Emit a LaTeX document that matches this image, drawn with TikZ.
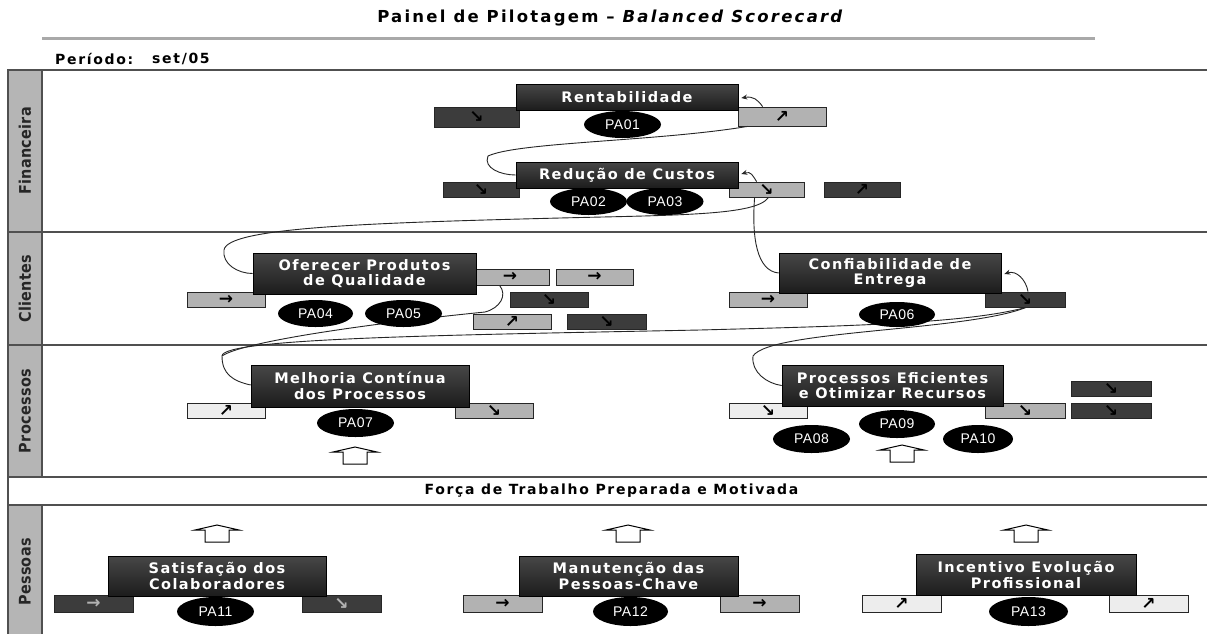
\documentclass[tikz,border=0pt]{standalone}
\usepackage{fontspec}
\setmainfont{DejaVu Sans}
\newfontfamily\titlefont[LetterSpace=13.5]{DejaVu Sans}
\newfontfamily\headfont[LetterSpace=12]{DejaVu Sans}
\newfontfamily\objfont[LetterSpace=10]{DejaVu Sans}
\newfontfamily\sidefont[LetterSpace=2]{DejaVu Sans Condensed}
\newfontfamily\pafont[LetterSpace=4]{Liberation Sans}
\newfontfamily\glyphfont{DejaVu Sans}
\usetikzlibrary{shapes.geometric,arrows.meta,calc}

\definecolor{objtop}{HTML}{474747}
\definecolor{objbot}{HTML}{1C1C1C}
\definecolor{inddark}{HTML}{3C3C3C}
\definecolor{indgray}{HTML}{B2B2B2}
\definecolor{indlight}{HTML}{EDEDED}
\definecolor{sidegray}{HTML}{B5B5B5}
\definecolor{framec}{HTML}{505050}
\definecolor{rulegray}{HTML}{A9A9A9}
\definecolor{connc}{HTML}{262626}

\tikzset{
  sz/.style 2 args={minimum width=#1pt, minimum height=#2pt},
  obj/.style={draw=black, line width=0.6pt, top color=objtop, bottom color=objbot,
    text=white, align=center, inner sep=0pt,
    font=\objfont\bfseries\fontsize{14.5}{15.5}\selectfont},
  ind/.style={draw=black!85, line width=0.8pt, inner sep=0pt,
    font=\glyphfont\bfseries\fontsize{17}{17}\selectfont},
  kdark/.style={ind, fill=inddark, text=black},
  kgray/.style={ind, fill=indgray, text=black},
  klight/.style={ind, fill=indlight, text=black},
  pa/.style={ellipse, fill=black, text=white, inner sep=0pt,
    font=\pafont\fontsize{14}{14}\selectfont},
  side/.style={draw=framec, line width=2pt, fill=sidegray, inner sep=0pt,
    text=black!85, font=\sidefont\bfseries\fontsize{16}{18}\selectfont},
  frame/.style={draw=framec, line width=2.5pt},
  head/.style={font=\headfont\bfseries\fontsize{14}{16}\selectfont},
  conn/.style={draw=connc, line width=0.9pt},
  tip/.style={-{Stealth[length=6pt,width=5pt]}},
  uparr/.pic={\draw[line width=1pt, fill=white] (-22,5) -- (0,0) -- (22,5) -- (12,5)
    -- (12,17) -- (-12,17) -- (-12,5) -- cycle;}
}

\begin{document}
\begin{tikzpicture}[x=1pt,y=-1pt]
\useasboundingbox (0,0) rectangle (1207,633);
\fill[white] (0,0) rectangle (1207,633);

% heading
\node[font=\titlefont\bfseries\fontsize{16.5}{19}\selectfont] (title) at (611,18)
  {Painel de Pilotagem – \textit{Balanced Scorecard}};
\draw[rulegray, line width=3pt] (42,38) -- (1095,38);
\node[head, anchor=west, inner sep=0pt] (per) at (55,59) {Período:};
\node[head, anchor=west, inner sep=0pt] (perv) at (152,59) {set/05};

% perspective bands
\foreach \yy in {70,232,345,477,505} \draw[frame] (8,\yy) -- (1215,\yy);
\node[side, sz={162}{34}, rotate=90] (sfin) at (25,151) {Financeira};
\node[side, sz={113}{34}, rotate=90] (scli) at (25,288.5) {Clientes};
\node[side, sz={132}{34}, rotate=90] (spro) at (25,411) {Processos};
\node[side, sz={134}{34}, rotate=90] (spes) at (25,572) {Pessoas};
\node[frame, head, fill=white, sz={1207}{28}, inner sep=0pt] (forca) at (611.5,491)
  {Força de Trabalho Preparada e Motivada};

% Financeira
\node[kdark, sz={85}{20}] (r1l) at (476.5,117) {↘};
\node[kgray, sz={88}{19}] (r1r) at (782,116.5) {↗};
\node[obj, sz={222}{26}] (rent) at (627,97) {Rentabilidade};
\node[kdark, sz={76}{15}] (r2l) at (481,189.5) {↘};
\node[kgray, sz={75}{15}] (r2r) at (766.5,189.5) {↘};
\node[kdark, sz={76}{15}] (r2x) at (862,189.5) {↗};
\node[obj, sz={222}{26}] (red) at (627,175) {Redução de Custos};

% Clientes
\node[kgray, sz={78}{15}] (c1l) at (226,299.5) {→};
\node[kgray, sz={78}{16}] (c1a) at (510,277) {→};
\node[kgray, sz={77}{16}] (c1b) at (594.5,277) {→};
\node[kdark, sz={78}{15}] (c1c) at (549,299.5) {↘};
\node[kgray, sz={78}{15}] (c1d) at (512,321.5) {↗};
\node[kdark, sz={79}{15}] (c1e) at (606.5,321.5) {↘};
\node[obj, sz={223}{41}] (ofe) at (364.5,273.5) {Oferecer Produtos\\de Qualidade};
\node[kgray, sz={78}{15}] (c2l) at (768,299.5) {→};
\node[kdark, sz={80}{15}] (c2r) at (1025,299.5) {↘};
\node[obj, sz={222}{40}] (conf) at (890,273) {Confiabilidade de\\Entrega};

% Processos
\node[klight, sz={78}{15}] (p1l) at (226,410.5) {↗};
\node[kgray, sz={78}{15}] (p1r) at (494,410.5) {↘};
\node[obj, sz={218}{42}] (mel) at (360,386) {Melhoria Contínua\\dos Processos};
\node[klight, sz={78}{15}] (p2l) at (768,410.5) {↘};
\node[kgray, sz={80}{15}] (p2r) at (1025,410.5) {↘};
\node[kdark, sz={80}{15}] (p2a) at (1111,388.5) {↘};
\node[kdark, sz={80}{15}] (p2b) at (1111,410.5) {↘};
\node[obj, sz={221}{41}] (pef) at (892.5,385.5) {Processos Eficientes\\e Otimizar Recursos};
\pic at (355,447) {uparr};
\pic at (902,445) {uparr};

% Pessoas
\pic at (217,525) {uparr};
\pic at (628,525) {uparr};
\pic at (1026,525) {uparr};
\node[kdark, sz={79}{17}, text=black!30] (s1l) at (93.5,603.5) {→};
\node[kdark, sz={79}{17}, text=black!30] (s1r) at (341.5,603.5) {↘};
\node[obj, sz={218}{40}] (sat) at (217,576) {Satisfação dos\\Colaboradores};
\node[kgray, sz={79}{17}] (s2l) at (502.5,603.5) {→};
\node[kgray, sz={79}{17}] (s2r) at (759.5,603.5) {→};
\node[obj, sz={219}{40}] (man) at (628.5,576) {Manutenção das\\Pessoas-Chave};
\node[klight, sz={79}{17}] (s3l) at (901.5,603.5) {↗};
\node[klight, sz={79}{17}] (s3r) at (1148.5,603.5) {↗};
\node[obj, sz={220}{41}] (inc) at (1026,575) {Incentivo Evolução\\Profissional};

% cause-and-effect links
\coordinate (f1) at (488,156);
\coordinate (f2) at (560,218);
\coordinate (f3) at (224,250);
\coordinate (f4) at (700,330);
\coordinate (f5) at (222,356);
\coordinate (f6) at (753,356);
\coordinate (f7) at (485,312);
\draw[conn,tip] ($(r1r.north west)+(25,0)$) .. controls +(-5,-7) and +(12,-2) .. ($(rent.east)+(3,1)$);
\draw[conn] ($(r1r.south west)+(10,0)$) .. controls +(-90,15) and +(30,-14) .. (f1)
  .. controls +(-5,12) and +(-15,0) .. (red.west);
\draw[conn,tip] ($(r2r.north west)+(28,0)$) .. controls +(-4,-6) and +(10,-3) .. ($(red.east)+(3,-1)$);
\draw[conn] ($(r2r.south)+(2,0)$) .. controls +(-12,18) and +(120,-3) .. (f2)
  .. controls +(-200,5) and +(3,-22) .. (f3) .. controls +(-2,14) and +(-15,0) .. (ofe.west);
\draw[conn] ($(r2r.south west)+(26,0)$) .. controls +(-3,40) and +(-22,-2) .. (conf.west);
\draw[conn,tip] ($(c2r.north)+(3,0)$) .. controls +(-2,-12) and +(12,-4) .. ($(conf.east)+(3,1)$);
\draw[conn] ($(c2r.south)+(1,0)$) .. controls +(-60,16) and +(150,-4) .. (f4)
  .. controls +(-250,5) and +(0,-18) .. (f5) .. controls +(0,18) and +(-18,-4) .. ($(mel.west)+(0,-1)$);
\draw[conn] ($(c2r.south)+(1,0)$) .. controls +(-60,24) and +(17,-26) .. (f6)
  .. controls +(-2,16) and +(-15,-2) .. (pef.west);
\draw[conn] ($(c1a.south west)+(29,0)$) .. controls +(8,10) and +(15,-4) .. (f7)
  .. controls +(-120,12) and +(20,-14) .. (f5);

% action plans
\node[pa, sz={77}{27}] (pa01) at (622.5,124.5) {PA01};
\node[pa, sz={77}{27}] (pa02) at (588.5,201.5) {PA02};
\node[pa, sz={77}{27}] (pa03) at (665,201.5) {PA03};
\node[pa, sz={75}{27}] (pa04) at (315.5,313.5) {PA04};
\node[pa, sz={77}{27}] (pa05) at (403.5,313.5) {PA05};
\node[pa, sz={76}{25}] (pa06) at (897,314.5) {PA06};
\node[pa, sz={77}{28}] (pa07) at (355.5,423) {PA07};
\node[pa, sz={76}{28}] (pa09) at (897,424) {PA09};
\node[pa, sz={77}{28}] (pa08) at (811.5,439) {PA08};
\node[pa, sz={70}{28}] (pa10) at (978,439) {PA10};
\node[pa, sz={77}{29}] (pa11) at (215.5,611.5) {PA11};
\node[pa, sz={75}{29}] (pa12) at (630.5,611.5) {PA12};
\node[pa, sz={79}{29}] (pa13) at (1028.5,611.5) {PA13};
\end{tikzpicture}
\end{document}
